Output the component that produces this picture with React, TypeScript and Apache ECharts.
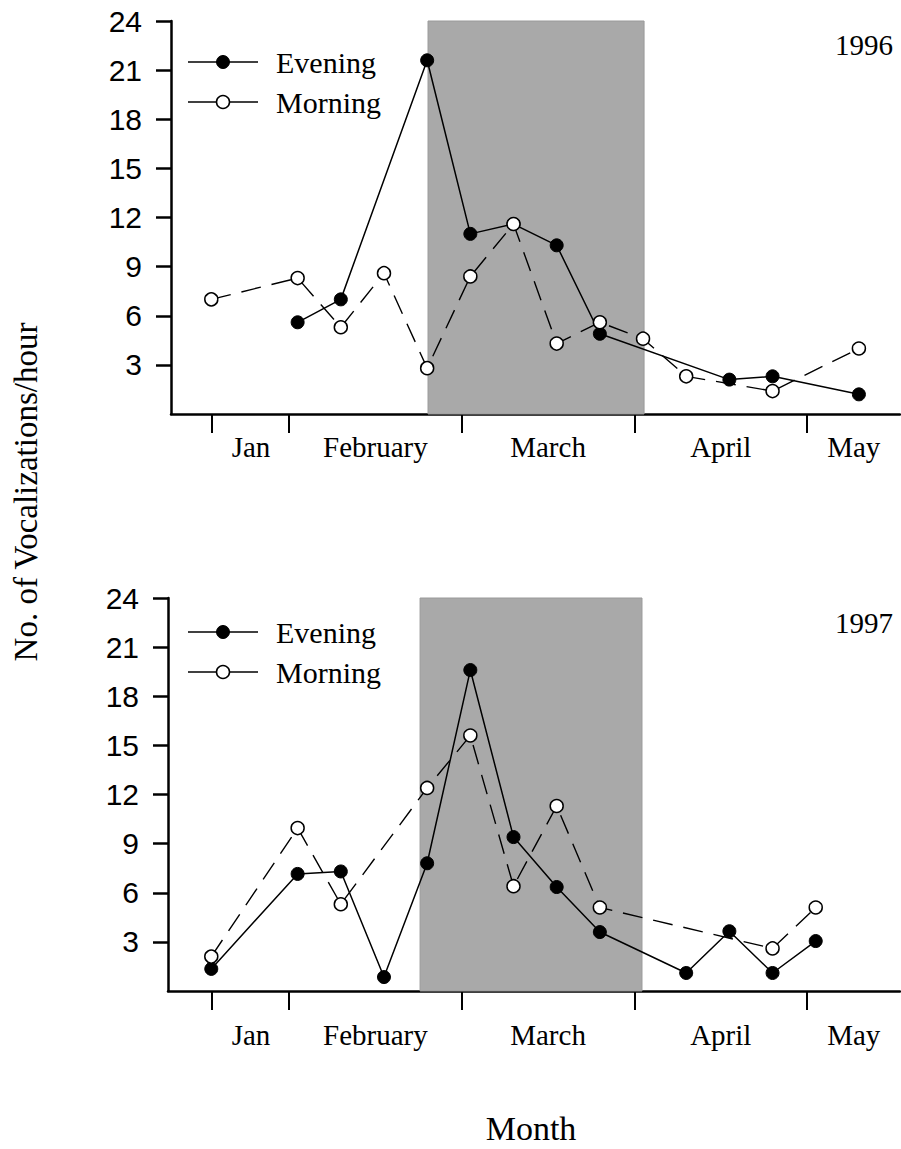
import React, { useEffect, useRef } from "react";
import * as echarts from "echarts";

// Month axis: x values are positions in months (1 = start of February, 2 = start of March ...)
const monthTickPositions = [0.55, 1, 2, 3, 4];
const monthLabels = ["Jan", "February", "March", "April", "May"];
const monthLabelPositions = [0.78, 1.5, 2.5, 3.5, 4.27];
const yTicks = [3, 6, 9, 12, 15, 18, 21, 24];

// 1996
const evening1996X = [1.05, 1.3, 1.8, 2.05, 2.3, 2.55, 2.8, 3.55, 3.8, 4.3];
const evening1996Y = [5.6, 7.0, 21.6, 11.0, 11.6, 10.3, 4.9, 2.1, 2.3, 1.2];
const morning1996X = [0.55, 1.05, 1.3, 1.55, 1.8, 2.05, 2.3, 2.55, 2.8, 3.05, 3.3, 3.8, 4.3];
const morning1996Y = [7.0, 8.3, 5.3, 8.6, 2.8, 8.4, 11.6, 4.3, 5.6, 4.6, 2.3, 1.4, 4.0];
const shaded1996 = [1.805, 3.056];

// 1997
const evening1997X = [0.55, 1.05, 1.3, 1.55, 1.8, 2.05, 2.3, 2.55, 2.8, 3.3, 3.55, 3.8, 4.05];
const evening1997Y = [1.35, 7.15, 7.3, 0.85, 7.8, 19.6, 9.4, 6.35, 3.6, 1.1, 3.65, 1.1, 3.05];
const morning1997X = [0.55, 1.05, 1.3, 1.8, 2.05, 2.3, 2.55, 2.8, 3.8, 4.05];
const morning1997Y = [2.1, 9.95, 5.3, 12.4, 15.6, 6.4, 11.3, 5.1, 2.6, 5.1];
const shaded1997 = [1.759, 3.044];

const years = ["1996", "1997"];

const SERIF = '"Liberation Serif", "Times New Roman", serif';
const SANS = '"Liberation Sans", Arial, sans-serif';

const zip = (xs: number[], ys: number[]) => xs.map((x, i) => [x, ys[i]]);

export default function App() {
  const ref = useRef<HTMLDivElement>(null);

  useEffect(() => {
    document.body.style.margin = "0";
    document.body.style.overflow = "hidden";
    if (!ref.current) return;
    const chart = echarts.init(ref.current, null, { renderer: "svg" });

    const panels = [
      { top: 21, left: 171, width: 729, min: 0.3167, labelMargin: 18, ev: zip(evening1996X, evening1996Y), mo: zip(morning1996X, morning1996Y), shade: shaded1996 },
      { top: 598, left: 168, width: 732, min: 0.2994, labelMargin: 29, ev: zip(evening1997X, evening1997Y), mo: zip(morning1997X, morning1997Y), shade: shaded1997 },
    ];
    const xMax = 4.538;

    const grid = panels.map((p) => ({ left: p.left, top: p.top, width: p.width, height: 393, containLabel: false }));

    const xAxis = panels.map((p, i) => ({
      type: "value",
      gridIndex: i,
      min: p.min,
      max: xMax,
      axisLine: { show: true, onZero: false, lineStyle: { color: "#000", width: 2.5 } },
      splitLine: { show: false },
      axisTick: { show: true, inside: false, length: 19, customValues: monthTickPositions, lineStyle: { color: "#000", width: 2 } },
      axisLabel: {
        show: true,
        customValues: monthLabelPositions,
        formatter: (v: number) => {
          let best = 0;
          monthLabelPositions.forEach((m, k) => {
            if (Math.abs(m - v) < Math.abs(monthLabelPositions[best] - v)) best = k;
          });
          return monthLabels[best];
        },
        fontFamily: SERIF,
        fontSize: 29,
        color: "#000",
        margin: p.labelMargin,
      },
    }));

    const yAxis = panels.map((p, i) => ({
      type: "value",
      gridIndex: i,
      min: 0,
      max: 24,
      interval: 3,
      axisLine: { show: true, onZero: false, lineStyle: { color: "#000", width: 2.5 } },
      splitLine: { show: false },
      axisTick: { show: true, inside: false, length: 15, customValues: yTicks, lineStyle: { color: "#000", width: 2.5 } },
      axisLabel: { show: true, customValues: yTicks, fontFamily: SANS, fontSize: 30, color: "#000", margin: 29 },
    }));

    const series: any[] = [];
    panels.forEach((p, i) => {
      series.push({
        type: "line",
        name: "shade",
        xAxisIndex: i,
        yAxisIndex: i,
        data: [],
        z: 1,
        silent: true,
        markArea: {
          silent: true,
          itemStyle: { color: "#a9a9a9", borderColor: "#9a9a9a", borderWidth: 1 },
          data: [[{ xAxis: p.shade[0], yAxis: 0 }, { xAxis: p.shade[1], yAxis: 24 }]],
        },
      });
      series.push({
        type: "line",
        name: "Evening",
        xAxisIndex: i,
        yAxisIndex: i,
        data: p.ev,
        z: 3,
        symbol: "circle",
        symbolSize: 13,
        showAllSymbol: true,
        itemStyle: { color: "#000", borderColor: "#000", borderWidth: 1 },
        lineStyle: { color: "#000", width: 1.5, type: "solid" },
      });
      series.push({
        type: "line",
        name: "Morning",
        xAxisIndex: i,
        yAxisIndex: i,
        data: p.mo,
        z: 4,
        symbol: "circle",
        symbolSize: 13,
        showAllSymbol: true,
        itemStyle: { color: "#fff", borderColor: "#000", borderWidth: 1.5 },
        lineStyle: { color: "#000", width: 1.4, type: [20, 11] },
      });
    });

    const graphic: any[] = [];
    const legendY = [
      [62, 102],
      [632, 672],
    ];
    legendY.forEach(([ye, ym], i) => {
      graphic.push({ type: "line", shape: { x1: 188, y1: ye, x2: 258, y2: ye }, style: { stroke: "#000", lineWidth: 1.5 } });
      graphic.push({ type: "circle", shape: { cx: 223, cy: ye, r: 6.5 }, style: { fill: "#000", stroke: "#000", lineWidth: 1 } });
      graphic.push({ type: "line", shape: { x1: 188, y1: ym, x2: 216, y2: ym }, style: { stroke: "#000", lineWidth: 1.5 } });
      graphic.push({ type: "line", shape: { x1: 230, y1: ym, x2: 258, y2: ym }, style: { stroke: "#000", lineWidth: 1.5 } });
      graphic.push({ type: "circle", shape: { cx: 223, cy: ym, r: 6.5 }, style: { fill: "#fff", stroke: "#000", lineWidth: 1.5 } });
      graphic.push({
        type: "text", x: 276, y: ye,
        style: { text: "Evening", font: `30px ${SERIF}`, fill: "#000", textAlign: "left", textVerticalAlign: "middle", align: "left", verticalAlign: "middle" },
      });
      graphic.push({
        type: "text", x: 276, y: ym,
        style: { text: "Morning", font: `30px ${SERIF}`, fill: "#000", textAlign: "left", textVerticalAlign: "middle", align: "left", verticalAlign: "middle" },
      });
      graphic.push({
        type: "text", x: 864, y: i === 0 ? 45 : 623,
        style: { text: years[i], font: `29px ${SERIF}`, fill: "#000", textAlign: "center", textVerticalAlign: "middle", align: "center", verticalAlign: "middle" },
      });
    });
    graphic.push({
      type: "text", x: 26, y: 492, rotation: Math.PI / 2,
      style: { text: "No. of Vocalizations/hour", font: `33px ${SERIF}`, fill: "#000", textAlign: "center", textVerticalAlign: "middle", align: "center", verticalAlign: "middle" },
    });
    graphic.push({
      type: "text", x: 531, y: 1128,
      style: { text: "Month", font: `34px ${SERIF}`, fill: "#000", textAlign: "center", textVerticalAlign: "middle", align: "center", verticalAlign: "middle" },
    });

    chart.setOption({
      animation: false,
      backgroundColor: "#fff",
      grid,
      xAxis,
      yAxis,
      series,
      graphic,
    });

    return () => chart.dispose();
  }, []);

  return <div ref={ref} style={{ width: 901, height: 1149 }} />;
}
